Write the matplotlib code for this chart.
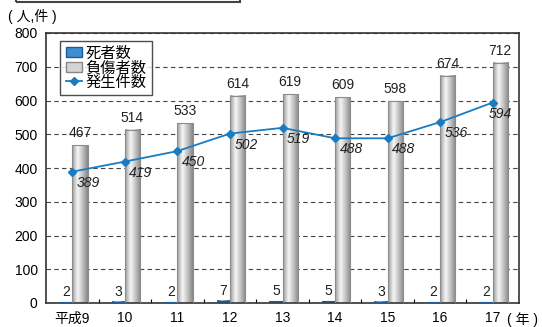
import numpy as np
import matplotlib
matplotlib.use("Agg")
import matplotlib.pyplot as plt
from matplotlib.colors import LinearSegmentedColormap
from matplotlib.lines import Line2D
from matplotlib.patches import Patch, Rectangle

plt.rcParams["font.family"] = ["Liberation Sans", "Noto Sans CJK JP"]

years = ["平成9", "10", "11", "12", "13", "14", "15", "16", "17"]
deaths = [2, 3, 2, 7, 5, 5, 3, 2, 2]
injured = [467, 514, 533, 614, 619, 609, 598, 674, 712]
accidents = [389, 419, 450, 502, 519, 488, 488, 536, 594]

W, H = 542, 327
fig = plt.figure(figsize=(W / 100, H / 100), dpi=100)
ax = fig.add_axes([46 / W, 1 - 303 / H, 473 / W, 270 / H])

gray_cmap = LinearSegmentedColormap.from_list(
    "cyl_gray", [(0, "#9a9a9a"), (0.35, "#f7f7f7"), (0.7, "#bdbdbd"), (1, "#868686")])
blue_cmap = LinearSegmentedColormap.from_list(
    "cyl_blue", [(0, "#1a5d99"), (0.35, "#8cc6ee"), (1, "#145592")])
grad = np.linspace(0, 1, 64).reshape(1, -1)

x = np.arange(len(years))
blue_bars = ax.bar(x, deaths, width=-0.25, align="edge", facecolor="none",
                   edgecolor="#1a5d99", linewidth=0.8, zorder=3)
gray_bars = ax.bar(x, injured, width=0.29, align="edge", facecolor="none",
                   edgecolor="#8c8c8c", linewidth=0.8, zorder=3)

# cylinder shading inside each bar
for bars, cmap in ((blue_bars, blue_cmap), (gray_bars, gray_cmap)):
    for p in bars:
        x0, y0, w, h = p.get_x(), p.get_y(), p.get_width(), p.get_height()
        ax.imshow(grad, cmap=cmap, extent=[min(x0, x0 + w), max(x0, x0 + w), y0, y0 + h],
                  aspect="auto", interpolation="bicubic", zorder=2)

ax.plot(x, accidents, color="#1a7cc0", lw=1.3, marker="D", ms=4, zorder=4)

for xi, v in zip(x, injured):
    ax.annotate(str(v), (xi + 0.145, v), xytext=(0, 5), textcoords="offset pixels",
                ha="center", va="bottom", fontsize=10, color="#222222")
for xi, v in zip(x, deaths):
    ax.annotate(str(v), (xi - 0.125, v), xytext=(0, 3), textcoords="offset pixels",
                ha="center", va="bottom", fontsize=10, color="#222222")
for i, (xi, v) in enumerate(zip(x, accidents)):
    dx = 8 if i == len(x) - 1 else 16
    ax.annotate(str(v), (xi, v), xytext=(dx, -4), textcoords="offset pixels",
                ha="center", va="top", fontsize=10, style="italic", color="#222222",
                zorder=5)

ax.set_xlim(-0.5, len(years) - 0.5)
ax.set_ylim(0, 800)
ax.set_yticks(range(0, 801, 100))
ax.set_xticks(x)
ax.set_xticklabels(years)
ax.set_xticks(np.arange(0.5, len(years) - 1, 1), minor=True)
ax.tick_params(axis="x", which="major", length=0, pad=6, labelsize=10)
ax.tick_params(axis="x", which="minor", direction="in", length=3, width=0.8)
ax.tick_params(axis="y", length=0, pad=6, labelsize=10)
ax.yaxis.grid(True, linestyle=(0, (4, 3)), color="#444444", lw=0.8)
ax.set_axisbelow(True)
for s in ax.spines.values():
    s.set_linewidth(1.2)
    s.set_color("#333333")

handles = [
    Patch(facecolor="#3f8fd0", edgecolor="#1a5d99", label="死者数"),
    Patch(facecolor="#d4d4d4", edgecolor="#888888", label="負傷者数"),
    Line2D([], [], color="#1a7cc0", lw=1.3, marker="D", ms=4, label="発生件数"),
]
leg = ax.legend(handles=handles, loc="upper left", bbox_to_anchor=(0.03, 0.97),
                borderaxespad=0, fontsize=11, frameon=True, fancybox=False,
                handlelength=1.1, handleheight=0.65, handletextpad=0.2,
                labelspacing=0.0, borderpad=0.35)
leg.get_frame().set_edgecolor("#222222")
leg.get_frame().set_linewidth(1.0)

fig.text(8 / W, 1 - 16.5 / H, "( 人,件 )", fontsize=10, va="center", ha="left")
fig.text(507 / W, 1 - 320 / H, "( 年 )", fontsize=10, va="center", ha="left")
fig.patches.append(Rectangle((16 / W, 1 - 1.5 / H), 224 / W, 0.2, transform=fig.transFigure,
                             fill=False, edgecolor="#444444", lw=1.5))

fig.savefig("out.png", dpi=100)
